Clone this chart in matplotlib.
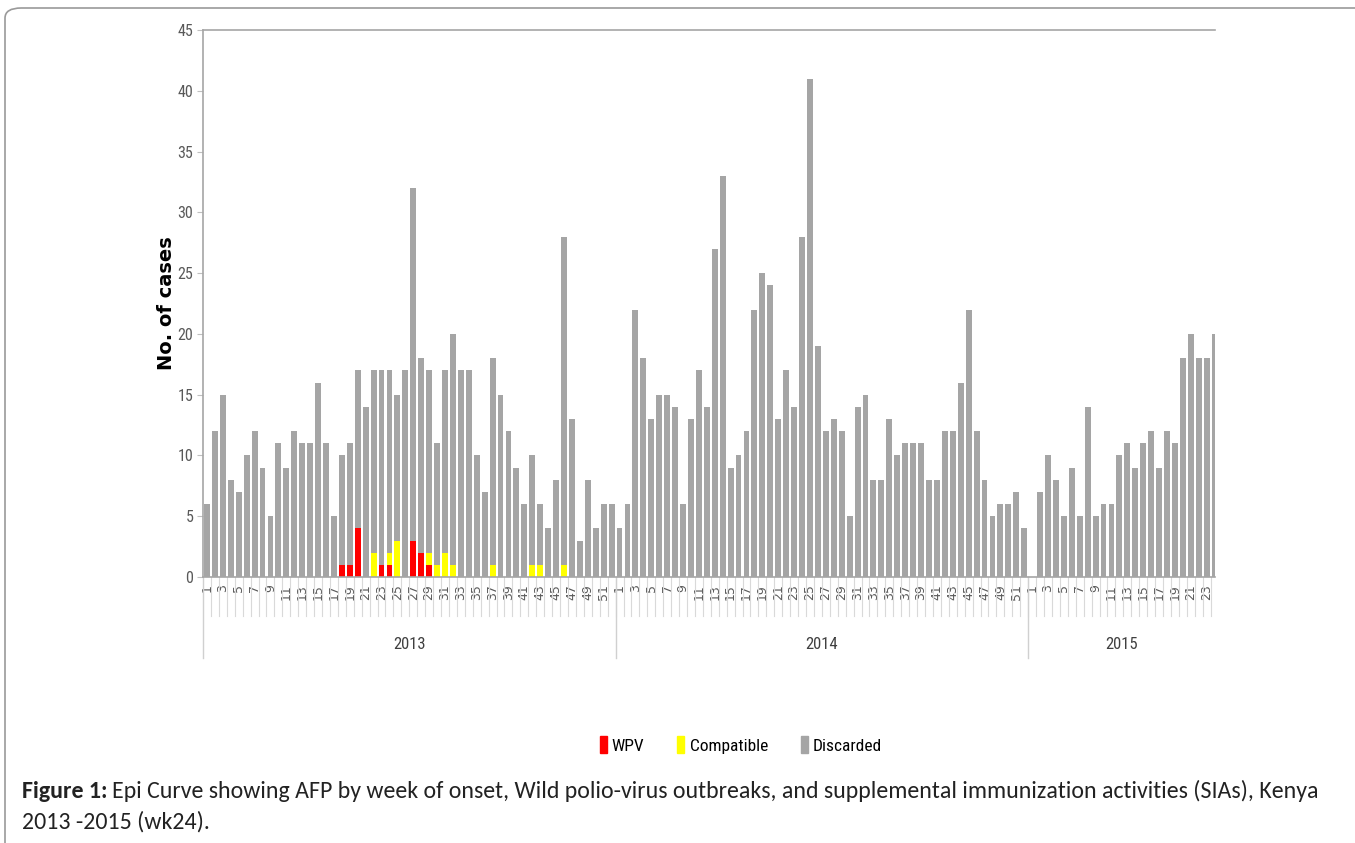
import numpy as np
import matplotlib
matplotlib.use('Agg')
import matplotlib.pyplot as plt
from matplotlib.patches import FancyBboxPatch, Patch
from matplotlib import font_manager

# semaines par année
years = ['2013', '2014', '2015']
weeks_per_year = [52, 52, 24]

# total des cas par semaine
total_2013 = [6, 12, 15, 8, 7, 10, 12, 9, 5, 11, 9, 12, 11, 11, 16, 11, 5, 10, 11, 17,
              14, 17, 17, 17, 15, 17, 32, 18, 17, 11, 17, 20, 17, 17, 10, 7, 18, 15, 12, 9,
              6, 10, 6, 4, 8, 28, 13, 3, 8, 4, 6, 6]
total_2014 = [4, 6, 22, 18, 13, 15, 15, 14, 6, 13, 17, 14, 27, 33, 9, 10, 12, 22, 25, 24,
              13, 17, 14, 28, 41, 19, 12, 13, 12, 5, 14, 15, 8, 8, 13, 10, 11, 11, 11, 8,
              8, 12, 12, 16, 22, 12, 8, 5, 6, 6, 7, 4]
total_2015 = [0, 7, 10, 8, 5, 9, 5, 14, 5, 6, 6, 10, 11, 9, 11, 12, 9, 12, 11, 18,
              20, 18, 18, 20]

# WPV et compatibles (2013 seulement), semaine -> nombre
wpv_2013 = {18: 1, 19: 1, 20: 4, 23: 1, 24: 1, 27: 3, 28: 2, 29: 1}
compat_2013 = {22: 2, 24: 1, 25: 3, 29: 1, 30: 1, 31: 2, 32: 1, 37: 1, 42: 1, 43: 1, 46: 1}

total = np.array(total_2013 + total_2014 + total_2015)
wpv = np.zeros(len(total))
compat = np.zeros(len(total))
for w, v in wpv_2013.items():
    wpv[w - 1] = v
for w, v in compat_2013.items():
    compat[w - 1] = v
discarded = total - wpv - compat

week_labels = []
for n in weeks_per_year:
    week_labels += [str(i) if i % 2 == 1 else '' for i in range(1, n + 1)]

# choix des polices disponibles
names = {f.name for f in font_manager.fontManager.ttflist}
def pick(prefs):
    for p in prefs:
        if p in names:
            return p
    return 'DejaVu Sans'
narrow = pick(['Liberation Sans Narrow', 'Roboto Condensed', 'PT Sans Narrow',
               'Archivo Narrow', 'Open Sans Condensed', 'Carlito', 'Open Sans'])
calibri = pick(['Carlito', 'Open Sans'])

W, H = 1355, 843
fig = plt.figure(figsize=(W / 100, H / 100), dpi=100)

# cadre arrondi autour de la figure
frame = FancyBboxPatch((5 / W, -0.2), 1.2, 1.2 - 8 / H,
                       boxstyle='round,pad=0,rounding_size=0.012',
                       transform=fig.transFigure, fill=False,
                       edgecolor='#9a9a9a', linewidth=1.2)
fig.patches.append(frame)

ax = fig.add_axes([203 / W, (H - 577) / H, (1215 - 203) / W, (577 - 30) / H])
x = np.arange(len(total))
bw = 0.74
ax.bar(x, wpv, bw, color='#FF0000', label='WPV')
ax.bar(x, compat, bw, bottom=wpv, color='#FFFF00', label='Compatible')
ax.bar(x, discarded, bw, bottom=wpv + compat, color='#A5A5A5', label='Discarded')

ax.set_xlim(-0.5, len(total) - 0.95)
ax.set_ylim(0, 45)
ax.set_yticks(range(0, 46, 5))
ax.tick_params(axis='y', labelsize=11.5, colors='#595959', length=4, color='#BFBFBF', pad=3)
for t in ax.get_yticklabels():
    t.set_fontfamily(narrow)
ax.set_xticks(x)
ax.set_xticklabels(week_labels, rotation=90, fontsize=9, color='#595959')
ax.tick_params(axis='x', length=0, pad=5)

ax.spines['right'].set_visible(False)
for s in ['left', 'top', 'bottom']:
    ax.spines[s].set_color('#A6A6A6')
    ax.spines[s].set_linewidth(1.2)

ax.set_ylabel('No. of cases', fontsize=14, fontweight='bold')
ax.yaxis.set_label_coords((167 - 203) / (1215 - 203), 0.5)
ax.yaxis.label.set_va('center')

# séparateurs des catégories et des années
trans = ax.get_xaxis_transform()
for i in range(len(total) - 1):
    ax.plot([i + 0.5, i + 0.5], [0, -0.071], color='#D9D9D9', lw=0.8,
            transform=trans, clip_on=False)
start = 0
bounds = [-0.5]
for n in weeks_per_year:
    start += n
    bounds.append(start - 0.5)
for b in bounds[:-1]:
    ax.plot([b, b], [0, -0.148], color='#D0D0D0', lw=1,
            transform=trans, clip_on=False)
for k, yr in enumerate(years):
    c = (bounds[k] + min(bounds[k + 1], len(total) - 0.95)) / 2
    ax.text(c, -0.124, yr, transform=trans, ha='center', va='center',
            fontsize=12, color='#404040', family=narrow)

handles = [Patch(color='#FF0000'), Patch(color='#FFFF00'), Patch(color='#A5A5A5')]
fig.legend(handles, ['WPV', 'Compatible', 'Discarded'], loc='center',
           bbox_to_anchor=(741 / W, (H - 745) / H), ncol=3, frameon=False,
           prop={'family': narrow, 'size': 12.5}, handlelength=0.4, handleheight=1.1,
           handletextpad=0.3, columnspacing=1.9)

# légende de la figure, ajustée en largeur
cap_size = 15
y1 = (H - 791) / H
y2 = (H - 822) / H
t_bold = fig.text(22 / W, y1, 'Figure 1:', fontsize=cap_size, fontweight='bold',
                  family=calibri, va='center', color='#222222')
fig.canvas.draw()
r = fig.canvas.get_renderer()
bb = t_bold.get_window_extent(r)
t_rest = fig.text(bb.x1 / W + 6 / W, y1,
                  'Epi Curve showing AFP by week of onset, Wild polio-virus outbreaks, and '
                  'supplemental immunization activities (SIAs), Kenya',
                  fontsize=cap_size, family=calibri, va='center', color='#222222')
fig.canvas.draw()
end = t_rest.get_window_extent(r).x1
scale = (1325 - 22) / (end - 22)
cap_size = cap_size * scale
t_bold.set_fontsize(cap_size)
fig.canvas.draw()
bb = t_bold.get_window_extent(r)
t_rest.set_fontsize(cap_size)
t_rest.set_x(bb.x1 / W + 5 / W)
fig.text(22 / W, y2, '2013 -2015 (wk24).', fontsize=cap_size,
         family=calibri, va='center', color='#222222')

plt.savefig('out.png', dpi=100)
